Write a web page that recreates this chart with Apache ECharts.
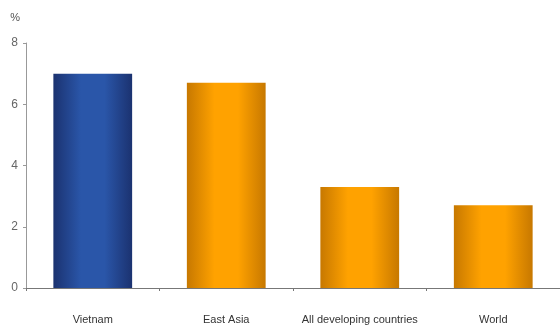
<!DOCTYPE html>
<html>
<head>
<meta charset="utf-8">
<script src="https://cdn.jsdelivr.net/npm/echarts@6/dist/echarts.min.js"></script>
<style>
  html, body { margin: 0; padding: 0; background: #fff; }
  #chart { width: 560px; height: 328px; }
</style>
</head>
<body>
<div id="chart"></div>
<script>
// Categories and values (%)
const categories = ['Vietnam', 'East Asia', 'All developing countries', 'World'];
const values = [7.0, 6.7, 3.3, 2.7];
const yTicks = [0, 2, 4, 6, 8];

const font = '"Liberation Sans", Arial, sans-serif';

function barGradient(edge, mid) {
  return new echarts.graphic.LinearGradient(0, 0, 1, 0, [
    { offset: 0, color: edge },
    { offset: 0.35, color: mid },
    { offset: 0.65, color: mid },
    { offset: 1, color: edge }
  ]);
}
const blue = barGradient('#1b3270', '#2a56a9');
const orange = barGradient('#c77800', '#ffa200');

const chart = echarts.init(document.getElementById('chart'));
chart.setOption({
  animation: false,
  grid: { left: 26, right: 0, top: 43, bottom: 40, containLabel: false },
  xAxis: {
    type: 'category',
    data: categories,
    axisLine: { lineStyle: { color: '#777', width: 1 } },
    axisTick: { show: true, length: 3, lineStyle: { color: '#777' } },
    axisLabel: { interval: 0, color: '#333', fontFamily: font, fontSize: 11, margin: 26 }
  },
  yAxis: {
    type: 'value',
    min: yTicks[0],
    max: yTicks[yTicks.length - 1],
    interval: 2,
    name: '%',
    nameLocation: 'end',
    nameGap: 20,
    nameTextStyle: { color: '#555', fontFamily: font, fontSize: 11, align: 'right', padding: [0, 6, 0, 0] },
    axisLine: { show: true, lineStyle: { color: '#999', width: 1 } },
    axisTick: { show: true, length: 3, lineStyle: { color: '#999' } },
    splitLine: { show: false },
    axisLabel: { color: '#666', fontFamily: font, fontSize: 12, margin: 8 }
  },
  series: [{
    type: 'bar',
    barWidth: '59%',
    data: values.map((v, i) => ({
      value: v,
      itemStyle: { color: i === 0 ? blue : orange }
    }))
  }]
});
</script>
</body>
</html>
